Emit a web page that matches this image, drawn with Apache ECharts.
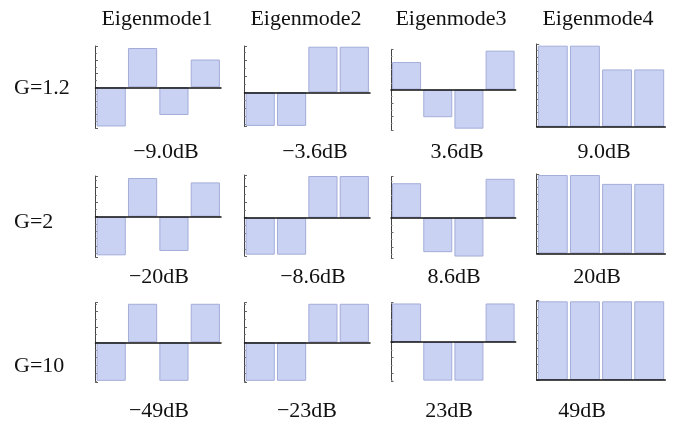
<!DOCTYPE html>
<html>
<head>
<meta charset="utf-8">
<script src="https://cdn.jsdelivr.net/npm/echarts@6/dist/echarts.min.js"></script>
<style>
  html, body { margin: 0; padding: 0; background: #ffffff; }
  #chart { width: 693px; height: 431px; }
</style>
</head>
<body>
<div id="chart"></div>
<script>
// ---- data ----
const modeTitles = ['Eigenmode1', 'Eigenmode2', 'Eigenmode3', 'Eigenmode4'];
const gainLabels = ['G=1.2', 'G=2', 'G=10'];
const barCategories = ['1', '2', '3', '4'];

const dbG12 = ['−9.0dB', '−3.6dB', '3.6dB', '9.0dB'];
const dbG2  = ['−20dB', '−8.6dB', '8.6dB', '20dB'];
const dbG10 = ['−49dB', '−23dB', '23dB', '49dB'];

const g12Mode1 = [-0.58, 0.58, -0.41, 0.41];
const g12Mode2 = [-0.42, -0.42, 0.57, 0.57];
const g12Mode3 = [0.41, -0.41, -0.58, 0.58];
const g12Mode4 = [0.58, 0.58, 0.41, 0.41];

const g2Mode1 = [-0.53, 0.53, -0.47, 0.47];
const g2Mode2 = [-0.47, -0.47, 0.53, 0.53];
const g2Mode3 = [0.47, -0.47, -0.53, 0.53];
const g2Mode4 = [0.53, 0.53, 0.47, 0.47];

const g10Mode1 = [-0.5, 0.5, -0.5, 0.5];
const g10Mode2 = [-0.5, -0.5, 0.5, 0.5];
const g10Mode3 = [0.5, -0.5, -0.5, 0.5];
const g10Mode4 = [0.5, 0.5, 0.5, 0.5];

const panelValues = [
  [g12Mode1, g12Mode2, g12Mode3, g12Mode4],
  [g2Mode1, g2Mode2, g2Mode3, g2Mode4],
  [g10Mode1, g10Mode2, g10Mode3, g10Mode4]
];
const dbRows = [dbG12, dbG2, dbG10];

// ---- layout (pixels / axis ranges) ----
const colLeft  = [95.5, 244.5, 391, 536.7];
const colWidth = [125.5, 125.5, 124.7, 128.6];
// per panel: [top, height, min, max]
const panelFrame = [
  [[46, 82.5, -0.61, 0.61], [46, 80.7, -0.43, 0.579], [49.3, 80.7, -0.6, 0.6], [44, 82.7, 0, 0.592]],
  [[176, 81.3, -0.557, 0.558], [175, 81, -0.487, 0.543], [176.7, 81.6, -0.554, 0.559], [174, 79.3, 0, 0.537]],
  [[302.7, 79.6, -0.519, 0.514], [302.7, 79.6, -0.519, 0.514], [302.7, 78.3, -0.505, 0.51], [300.7, 79.3, 0, 0.504]]
];
const titleX = [157, 306, 451, 598];
const titleY = 19;
const dbX = [[166, 315, 457, 604], [159, 313, 454, 597], [159, 307, 449, 582]];
const dbY = [152, 277, 411];
const gainY = [88, 222, 366];

const FONT = '"Liberation Serif", "DejaVu Serif", serif';

const grids = [], xAxes = [], yAxes = [], series = [], graphics = [];
let idx = 0;
for (let r = 0; r < 3; r++) {
  for (let c = 0; c < 4; c++) {
    const f = panelFrame[r][c];
    grids.push({ left: colLeft[c], top: f[0], width: colWidth[c], height: f[1], containLabel: false });
    xAxes.push({
      type: 'category', gridIndex: idx, data: barCategories, z: 5,
      axisLine: { show: true, onZero: true, lineStyle: { color: '#111', width: 1.5 } },
      axisTick: { show: false }, axisLabel: { show: false }, splitLine: { show: false }
    });
    yAxes.push({
      type: 'value', gridIndex: idx, min: f[2], max: f[3], splitNumber: 6,
      axisLine: { show: true, onZero: false, lineStyle: { color: '#444', width: 1 } },
      axisTick: { show: true, inside: true, length: 2.5, lineStyle: { color: '#666', width: 1 } },
      minorTick: { show: true, splitNumber: 2, length: 1.5, lineStyle: { color: '#888' } },
      axisLabel: { show: false }, splitLine: { show: false }
    });
    series.push({
      type: 'bar', xAxisIndex: idx, yAxisIndex: idx, data: panelValues[r][c],
      barCategoryGap: '7%', silent: true, animation: false,
      itemStyle: { color: '#cad2f4', borderColor: '#a3acd8', borderWidth: 1 }
    });
    graphics.push({
      type: 'text', x: dbX[r][c], y: dbY[r],
      style: { text: dbRows[r][c], font: '22px ' + FONT, fill: '#111', textAlign: 'center', textVerticalAlign: 'middle' }
    });
    idx++;
  }
  graphics.push({
    type: 'text', x: 14, y: gainY[r],
    style: { text: gainLabels[r], font: '22px ' + FONT, fill: '#111', textAlign: 'left', textVerticalAlign: 'middle' }
  });
}
for (let c = 0; c < 4; c++) {
  graphics.push({
    type: 'text', x: titleX[c], y: titleY,
    style: { text: modeTitles[c], font: '22px ' + FONT, fill: '#111', textAlign: 'center', textVerticalAlign: 'middle' }
  });
}

const chart = echarts.init(document.getElementById('chart'), null, { renderer: 'canvas' });
chart.setOption({
  animation: false,
  backgroundColor: '#ffffff',
  grid: grids,
  xAxis: xAxes,
  yAxis: yAxes,
  series: series,
  graphic: graphics
});
</script>
</body>
</html>
